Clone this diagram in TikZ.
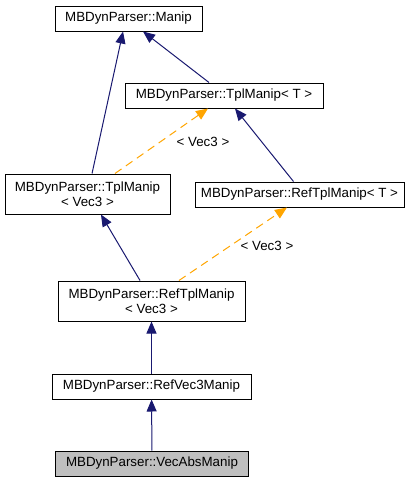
\documentclass[tikz,border=0pt]{standalone}
\usepackage{fontspec}
\setmainfont{Liberation Sans}
\usepackage{tikz}
\usetikzlibrary{arrows.meta}

\definecolor{EdgeBlue}{HTML}{191970}
\definecolor{EdgeOrange}{HTML}{FFA500}
\definecolor{CurGray}{HTML}{BFBFBF}

\begin{document}
\begin{tikzpicture}[x=0.75pt, y=-0.75pt,
      cls/.style={draw, line width=0.75pt, fill=white, inner sep=0pt,
         align=center, font=\fontsize{10}{11.25}\selectfont},
      inherit/.style={draw=EdgeBlue, line width=0.75pt,
         -{Triangle[length=9pt, width=7.5pt, fill=EdgeBlue]}},
      instance/.style={draw=EdgeOrange, line width=0.75pt, dash pattern=on 6pt off 4pt,
         -{Triangle[length=9pt, width=7.5pt, fill=EdgeOrange]}},
      tparam/.style={font=\fontsize{10}{11.25}\selectfont}]
      \useasboundingbox (0,0) rectangle (419,483);

      \node (manip) at (128.5,18.5) [cls, minimum width=110.25pt, minimum height=18.75pt]
         {MBDynParser::Manip};
      \node (tplT) at (224,95.5) [cls, minimum width=148.5pt, minimum height=18.75pt]
         {MBDynParser::TplManip< T >};
      \node (tplVec) at (87.5,194) [cls, minimum width=123.75pt, minimum height=30pt]
         {MBDynParser::TplManip\\< Vec3 >};
      \node (refT) at (299.5,194.5) [cls, minimum width=156.75pt, minimum height=18.75pt]
         {MBDynParser::RefTplManip< T >};
      \node (refVec) at (151.5,301) [cls, minimum width=140.25pt, minimum height=30pt]
         {MBDynParser::RefTplManip\\< Vec3 >};
      \node (refVec3) at (151.5,386.5) [cls, minimum width=149.25pt, minimum height=18.75pt]
         {MBDynParser::RefVec3Manip};
      \node (vecAbs) at (152,463.5) [cls, fill=CurGray, minimum width=144.75pt, minimum height=18.75pt]
         {MBDynParser::VecAbsManip};

      \draw [inherit] ([xshift=3.4pt]tplVec.north) -- ([xshift=-4.1pt]manip.south);
      \draw [inherit] ([xshift=-11.25pt]tplT.north) -- ([xshift=10.9pt]manip.south);
      \draw [instance] ([xshift=20.6pt]tplVec.north) -- ([xshift=-12pt]tplT.south);
      \node (lblA) at (203,141.5) [tparam] {< Vec3 >};
      \draw [inherit] ([xshift=-4.5pt]refT.north) -- ([xshift=8.25pt]tplT.south);
      \draw [inherit] ([xshift=-8.6pt]refVec.north) -- ([xshift=10.1pt]tplVec.south);
      \draw [instance] ([xshift=20.6pt]refVec.north) -- ([xshift=-9.4pt]refT.south);
      \node (lblB) at (267,246) [tparam] {< Vec3 >};
      \draw [inherit] (refVec3) -- (refVec);
      \draw [inherit] (vecAbs) -- (refVec3);
   \end{tikzpicture}
\end{document}
